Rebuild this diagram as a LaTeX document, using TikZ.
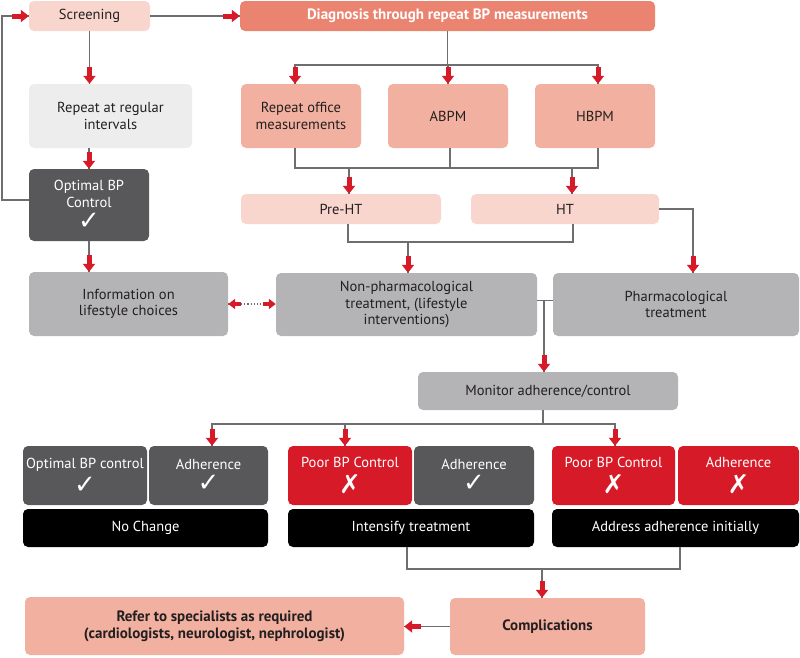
\documentclass[tikz,border=0pt]{standalone}
\usepackage{fontspec}
\setmainfont{PT Sans}
\newfontfamily\symfont{DejaVu Sans}
\usetikzlibrary{arrows.meta,calc}
\definecolor{lpink}{HTML}{F9D6CD}
\definecolor{dpink}{HTML}{EA8470}
\definecolor{mpink}{HTML}{F2B1A0}
\definecolor{lgray}{HTML}{EDEDED}
\definecolor{dgray}{HTML}{58585A}
\definecolor{mgray}{HTML}{B4B3B5}
\definecolor{bpred}{HTML}{D71A28}
\definecolor{lnc}{HTML}{6E6E70}
\definecolor{txt}{HTML}{231F20}
\newcommand\chk{{\symfont\fontsize{26}{26}\selectfont ✓}}
\newcommand\crs{{\symfont\fontsize{26}{26}\selectfont ✗}}
\begin{document}
\begin{tikzpicture}[x=1pt,y=-1pt,
  box/.style={rounded corners=5pt, align=center, inner sep=0pt, font=\fontsize{14.5}{16.5}\selectfont, text=txt},
  lightbox/.style={box, fill=lpink},
  midbox/.style={box, fill=mpink},
  graybox/.style={box, fill=mgray},
  darkbox/.style={box, fill=dgray, text=white},
  redbox/.style={box, fill=bpred, text=white},
  blackbox/.style={box, fill=black, text=white},
  boldf/.style={font=\fontsize{15}{17}\selectfont\bfseries},
  gline/.style={draw=lnc, line width=1.2pt},
  rarr/.style={draw=bpred, line width=5pt, -{Triangle[length=8pt,width=12pt]}},
  rarrs/.style={draw=bpred, line width=4pt, -{Triangle[length=7pt,width=10pt]}},
]
\useasboundingbox (0,0) rectangle (800,657);
% nodes
\node[lightbox, minimum width=121pt, minimum height=30pt] (scr) at (89.5,16) {Screening};
\node[box, fill=dpink, text=white, minimum width=415pt, minimum height=30pt, boldf] (diag) at (447.5,16) {Diagnosis through repeat BP measurements};
\node[box, fill=lgray, minimum width=163pt, minimum height=64pt] (rep) at (110.5,116) {Repeat at regular\\intervals};
\node[darkbox, minimum width=120pt, minimum height=72pt] (opt) at (89,205) {Optimal BP\\Control\\[5pt]\chk};
\node[midbox, minimum width=120pt, minimum height=64pt] (rom) at (301,116) {Repeat office\\measurements};
\node[midbox, minimum width=120pt, minimum height=64pt] (abpm) at (448,116) {ABPM};
\node[midbox, minimum width=120pt, minimum height=64pt] (hbpm) at (595,116) {HBPM};
\node[lightbox, minimum width=200pt, minimum height=30pt] (preht) at (341,209) {Pre-HT};
\node[lightbox, minimum width=188pt, minimum height=30pt] (ht) at (565,209) {HT};
\node[graybox, minimum width=199pt, minimum height=64pt] (info) at (128.5,304) {Information on\\lifestyle choices};
\node[graybox, minimum width=261pt, minimum height=63pt] (nonph) at (406.5,304.5) {Non-pharmacological\\treatment, (lifestyle\\interventions)};
\node[graybox, minimum width=246pt, minimum height=63pt] (pharm) at (676,304.5) {Pharmacological\\treatment};
\node[graybox, minimum width=260pt, minimum height=38pt] (mon) at (548,391) {Monitor adherence/control};
\node[darkbox, minimum width=124pt, minimum height=59pt] (b1) at (85,475.5) {Optimal BP control\\[5pt]\chk};
\node[darkbox, minimum width=119pt, minimum height=59pt] (b2) at (208.5,475.5) {Adherence\\[5pt]\chk};
\node[redbox, minimum width=124pt, minimum height=59pt] (b3) at (350,475.5) {Poor BP Control\\[5pt]\crs};
\node[darkbox, minimum width=120pt, minimum height=59pt] (b4) at (474,475.5) {Adherence\\[5pt]\chk};
\node[redbox, minimum width=123pt, minimum height=59pt] (b5) at (613.5,475.5) {Poor BP Control\\[5pt]\crs};
\node[redbox, minimum width=121pt, minimum height=59pt] (b6) at (738.5,475.5) {Adherence\\[5pt]\crs};
\node[blackbox, minimum width=245pt, minimum height=38pt] (k1) at (145.5,528) {No Change};
\node[blackbox, minimum width=246pt, minimum height=38pt] (k2) at (411,528) {Intensify treatment};
\node[blackbox, minimum width=247pt, minimum height=38pt] (k3) at (675.5,528) {Address adherence initially};
\node[midbox, minimum width=195pt, minimum height=57pt, boldf] (comp) at (547.5,626.5) {Complications};
\node[midbox, minimum width=379pt, minimum height=58pt, boldf] (refer) at (214.5,626) {Refer to specialists as required\\(cardiologists, neurologist, nephrologist)};
% helper coordinates
\coordinate (lp) at (2,0);
\coordinate (j1) at (0,65);
\coordinate (j2) at (0,168);
\coordinate (j3) at (0,242);
\coordinate (j4) at (0,424);
\coordinate (j5) at (0,569);
\coordinate (arom) at ([xshift=-6pt]rom.north);
\coordinate (ahbpm) at ([xshift=3pt]hbpm.north);
\coordinate (srom) at ([xshift=-6pt]rom.south);
\coordinate (sabpm) at ([xshift=2pt]abpm.south);
\coordinate (shbpm) at ([xshift=3pt]hbpm.south);
\coordinate (apre) at ([xshift=8pt]preht.north);
\coordinate (aht) at ([xshift=7pt]ht.north);
\coordinate (spre) at ([xshift=7pt]preht.south);
\coordinate (sht) at ([xshift=8pt]ht.south);
\coordinate (anon) at ([xshift=1.5pt]nonph.north);
\coordinate (aph) at ([xshift=17pt]pharm.north);
\coordinate (cnp) at ([yshift=4pt]nonph.east);
\coordinate (amon) at ([xshift=-4pt]mon.north);
\coordinate (smon) at ([xshift=-5pt]mon.south);
\coordinate (ab2) at ([xshift=3.5pt]b2.north);
\coordinate (ab3) at ([xshift=-5pt]b3.north);
\coordinate (ab5) at ([xshift=1.5pt]b5.north);
\coordinate (sk2) at ([xshift=-4pt]k2.south);
\coordinate (sk3) at ([xshift=4.5pt]k3.south);
\coordinate (acomp) at ([xshift=-5.5pt]comp.north);
\coordinate (loopst) at ([yshift=5pt]opt.west);
% gray connectors
\draw[gline] (loopst) -- (loopst -| lp) -- (lp |- scr.west) -- (scr.west);
\draw[gline] (scr.east) -- (diag.west);
\draw[gline] (scr.south) -- (scr.south |- rep.north);
\draw[gline] (rep.south -| opt.north) -- (opt.north);
\draw[gline] (opt.south) -- (opt.south |- info.north);
\draw[gline] (diag.south) -- (diag.south |- j1);
\draw[gline] (arom) -- (arom |- j1) -- (ahbpm |- j1) -- (ahbpm);
\draw[gline] (abpm.north |- j1) -- (abpm.north);
\draw[gline] (srom) -- (srom |- j2) -- (shbpm |- j2) -- (shbpm);
\draw[gline] (sabpm) -- (sabpm |- j2);
\draw[gline] (apre |- j2) -- (apre);
\draw[gline] (aht |- j2) -- (aht);
\draw[gline] (spre) -- (spre |- j3) -- (sht |- j3) -- (sht);
\draw[gline] (anon |- j3) -- (anon);
\draw[gline] (ht.east) -- (aph |- ht.east) -- (aph);
\draw[gline, dotted, line width=1.5pt] (info.east) -- (nonph.west |- info.east);
\draw[gline] (cnp) -- (pharm.west |- cnp);
\draw[gline] (amon |- cnp) -- (amon);
\draw[gline] (smon) -- (smon |- j4);
\draw[gline] (ab2) -- (ab2 |- j4) -- (ab5 |- j4) -- (ab5);
\draw[gline] (ab3 |- j4) -- (ab3);
\draw[gline] (sk2) -- (sk2 |- j5) -- (sk3 |- j5) -- (sk3);
\draw[gline] (acomp |- j5) -- (acomp);
\draw[gline] (comp.west) -- (refer.east |- comp.west);
% red arrow heads
\draw[rarr] ([xshift=-17pt]scr.west) -- (scr.west);
\draw[rarr] ([xshift=-17pt]diag.west) -- (diag.west);
\draw[rarr] ([yshift=17pt]scr.south |- rep.north) -- (scr.south |- rep.north);
\draw[rarr] ([yshift=17pt]opt.north) -- (opt.north);
\draw[rarr] ([yshift=17pt]opt.south |- info.north) -- (opt.south |- info.north);
\draw[rarr] ([yshift=17pt]arom) -- (arom);
\draw[rarr] ([yshift=17pt]abpm.north) -- (abpm.north);
\draw[rarr] ([yshift=17pt]ahbpm) -- (ahbpm);
\draw[rarr] ([yshift=17pt]apre) -- (apre);
\draw[rarr] ([yshift=17pt]aht) -- (aht);
\draw[rarr] ([yshift=17pt]anon) -- (anon);
\draw[rarr] ([yshift=17pt]aph) -- (aph);
\draw[rarr] ([yshift=17pt]amon) -- (amon);
\draw[rarr] ([yshift=17pt]ab2) -- (ab2);
\draw[rarr] ([yshift=17pt]ab3) -- (ab3);
\draw[rarr] ([yshift=17pt]ab5) -- (ab5);
\draw[rarr] ([yshift=17pt]acomp) -- (acomp);
\draw[rarr] ([xshift=17pt]refer.east |- comp.west) -- (refer.east |- comp.west);
\draw[rarrs] ([xshift=13pt]info.east) -- (info.east);
\draw[rarrs] ([xshift=-13pt]nonph.west |- info.east) -- (nonph.west |- info.east);
\end{tikzpicture}
\end{document}
